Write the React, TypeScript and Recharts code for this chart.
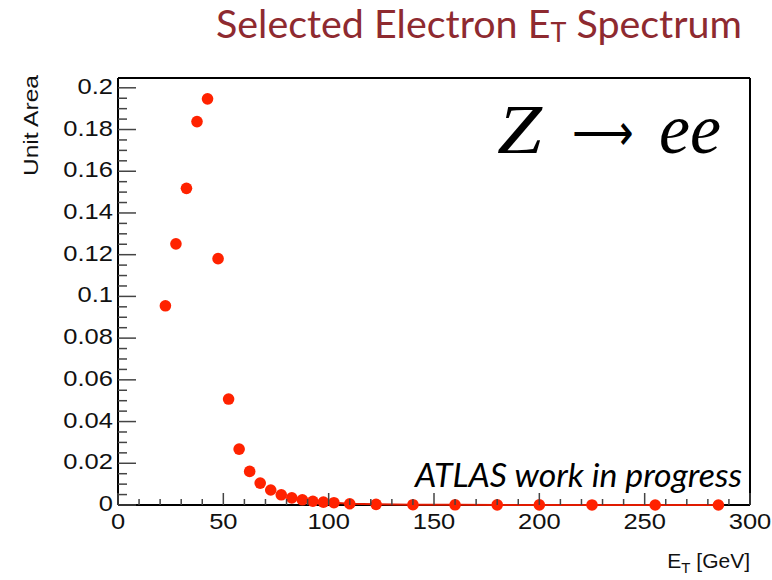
import React from 'react';
import { ScatterChart, Scatter, XAxis, YAxis, Customized } from 'recharts';

// bin centres (GeV) and normalised counts
const etCenters = [
  22.5, 27.5, 32.5, 37.5, 42.5, 47.5, 52.5, 57.5, 62.5, 67.5, 72.5, 77.5, 82.5, 87.5, 92.5, 97.5,
  102.5, 110, 122.5, 140, 160, 180, 200, 225, 255, 285,
];
const unitArea = [
  0.0955, 0.1252, 0.1518, 0.1838, 0.1947, 0.1181, 0.0508, 0.0268, 0.0161, 0.0105, 0.0072, 0.0049,
  0.0034, 0.0025, 0.0018, 0.0014, 0.0011, 0.0006, 0.0003, 0.00015, 0.0001, 0.00006, 0.00004,
  0.00002, 0.00001, 0.000005,
];

const xMajorLabels = [0, 50, 100, 150, 200, 250, 300];
const yMajorLabels = [0, 0.02, 0.04, 0.06, 0.08, 0.1, 0.12, 0.14, 0.16, 0.18, 0.2];

const xTicks = Array.from({ length: 31 }, (_, i) => i * 10);
const yTicks = Array.from({ length: 41 }, (_, i) => Number((i * 0.005).toFixed(3)));

const points = etCenters.map((et, i) => ({ et, v: unitArea[i] }));
const tail = points.filter((p) => p.et >= 97.5);

const RED = '#ff2200';
const TICK = '#444';
const LABEL_FONT = '"Liberation Sans", Arial, sans-serif';

const isMajorX = (v: number) => xMajorLabels.includes(v);
const isMajorY = (v: number) => yMajorLabels.some((m) => Math.abs(m - v) < 1e-9);

const BottomTick = ({ x, y, payload }: any) => {
  const major = isMajorX(payload.value);
  return (
    <g>
      <line x1={x} x2={x} y1={y} y2={y - (major ? 12 : 6)} stroke={TICK} strokeWidth={1.5} />
      {major && (
        <text
          transform={`translate(${x},${y + 24}) scale(1.16,1)`}
          textAnchor="middle"
          fontSize={22}
          fontFamily={LABEL_FONT}
          fill="#111"
        >
          {payload.value}
        </text>
      )}
    </g>
  );
};

const TopTick = ({ x, y, payload }: any) => {
  const major = isMajorX(payload.value);
  return <line x1={x} x2={x} y1={y} y2={y + (major ? 11 : 6)} stroke={TICK} strokeWidth={1.5} />;
};

const LeftTick = ({ x, y, payload }: any) => {
  const major = isMajorY(payload.value);
  return (
    <g>
      <line x1={x} x2={x + (major ? 18 : 9)} y1={y} y2={y} stroke={TICK} strokeWidth={1.5} />
      {major && (
        <text
          transform={`translate(${x - 5},${y + 6}) scale(1.16,1)`}
          textAnchor="end"
          fontSize={22}
          fontFamily={LABEL_FONT}
          fill="#111"
        >
          {String(payload.value)}
        </text>
      )}
    </g>
  );
};

const RightTick = ({ x, y, payload }: any) => {
  const major = isMajorY(payload.value);
  return <line x1={x} x2={x - (major ? 18 : 8)} y1={y} y2={y} stroke={TICK} strokeWidth={1.5} />;
};

const Dot = (props: any) => <circle cx={props.cx} cy={props.cy} r={5.8} fill={RED} />;

const serifStyle = { fontFamily: "'Liberation Serif', serif", fontStyle: 'italic' };

const Annotations = () => (
  <g>
    <text x={216} y={38} fontSize={38} fontFamily="Lato, sans-serif" fill="#8e2a30" textLength={526} lengthAdjust="spacingAndGlyphs">
      Selected Electron E<tspan fontSize={26} dy={4}>T</tspan>
      <tspan dy={-4}> Spectrum</tspan>
    </text>
    <text x={497} y={153} fontSize={70} style={serifStyle} fill="#000" textLength={45} lengthAdjust="spacingAndGlyphs">
      Z
    </text>
    <text x={572} y={150} fontSize={50} style={{ fontFamily: "'DejaVu Sans', sans-serif", fontWeight: 200 }} fill="#000" textLength={62} lengthAdjust="spacingAndGlyphs">
      ⟶
    </text>
    <text x={659} y={153} fontSize={72} style={serifStyle} fill="#000" textLength={62} lengthAdjust="spacingAndGlyphs">
      ee
    </text>
    <text x={415} y={487} fontSize={33} fontFamily="Lato, sans-serif" fontStyle="italic" fill="#000" textLength={327} lengthAdjust="spacingAndGlyphs">
      ATLAS work in progress
    </text>
    <text transform="translate(38,75) rotate(-90) scale(1.17,1)" textAnchor="end" fontSize={21} fontFamily={LABEL_FONT} fill="#111">
      Unit Area
    </text>
    <text x={750} y={568} textAnchor="end" fontSize={21} fontFamily={LABEL_FONT} fill="#111">
      E<tspan fontSize={15} dy={5}>T</tspan>
      <tspan dy={-5}> [GeV]</tspan>
    </text>
  </g>
);

export default function App() {
  return (
    <div style={{ position: 'absolute', left: 0, top: 0, background: '#fff' }}>
      <ScatterChart width={772} height={580} margin={{ top: 77, right: 20, left: 0, bottom: 0 }}>
        <XAxis
          xAxisId="bottom"
          dataKey="et"
          type="number"
          domain={[0, 300]}
          ticks={xTicks}
          interval={0}
          height={75}
          tickSize={0}
          tickMargin={0}
          tickLine={false}
          axisLine={{ stroke: '#000', strokeWidth: 2 }}
          tick={<BottomTick />}
        />
        <XAxis
          xAxisId="top"
          orientation="top"
          type="number"
          domain={[0, 300]}
          ticks={xTicks}
          interval={0}
          height={1}
          tickSize={0}
          tickMargin={0}
          tickLine={false}
          axisLine={{ stroke: '#000', strokeWidth: 2 }}
          tick={<TopTick />}
        />
        <YAxis
          yAxisId="left"
          dataKey="v"
          type="number"
          domain={[0, 0.2047]}
          ticks={yTicks}
          interval={0}
          width={118}
          tickSize={0}
          tickMargin={0}
          tickLine={false}
          axisLine={{ stroke: '#000', strokeWidth: 2 }}
          tick={<LeftTick />}
        />
        <YAxis
          yAxisId="right"
          orientation="right"
          type="number"
          domain={[0, 0.2047]}
          ticks={yTicks}
          interval={0}
          width={2}
          tickSize={0}
          tickMargin={0}
          tickLine={false}
          axisLine={{ stroke: '#000', strokeWidth: 2 }}
          tick={<RightTick />}
        />
        <Scatter
          xAxisId="bottom"
          yAxisId="left"
          data={tail}
          line={{ stroke: '#e01a00', strokeWidth: 2 }}
          shape={() => null}
          isAnimationActive={false}
        />
        <Scatter xAxisId="bottom" yAxisId="left" data={points} shape={Dot} isAnimationActive={false} />
        <Customized component={Annotations} />
      </ScatterChart>
    </div>
  );
}
